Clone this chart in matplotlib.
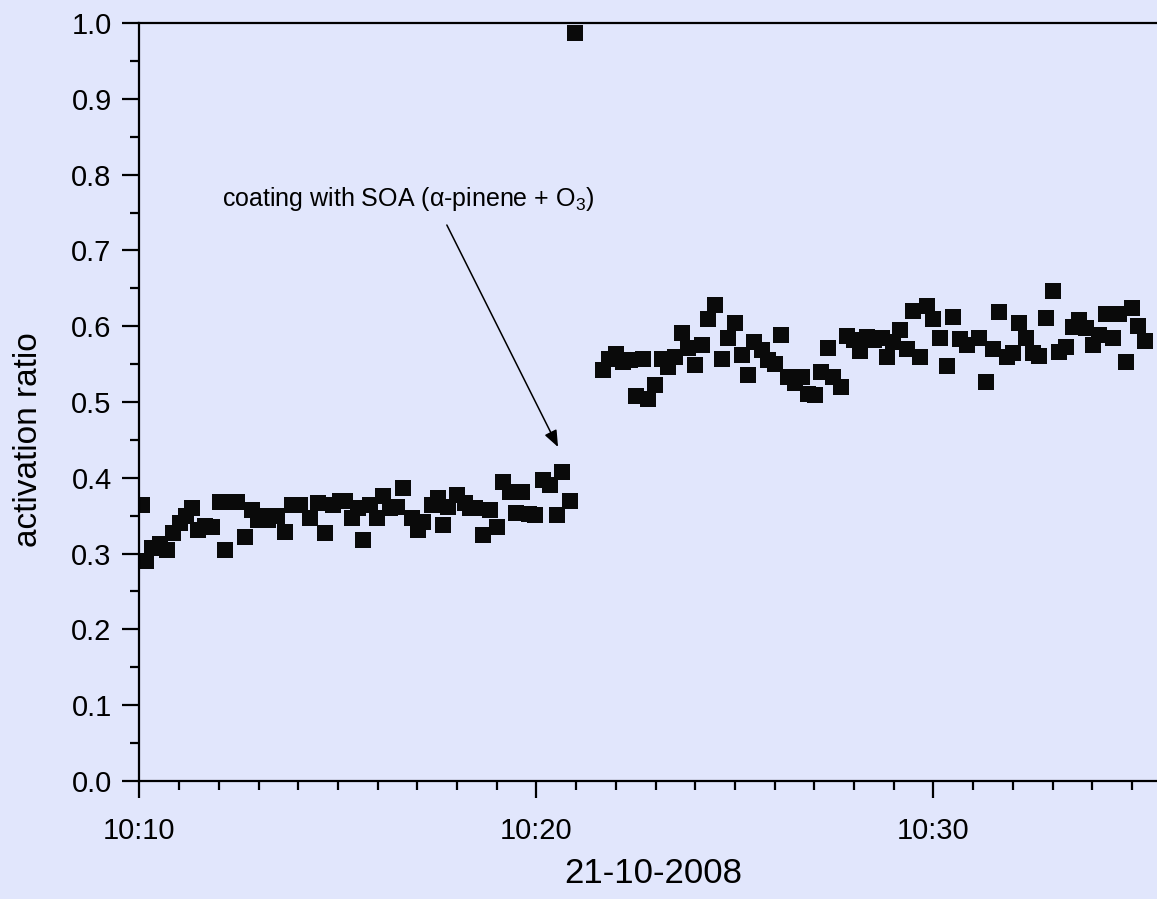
from datetime import datetime, timedelta
import matplotlib
matplotlib.use("Agg")
import matplotlib.pyplot as plt
import matplotlib.dates as mdates
from matplotlib.ticker import MultipleLocator

plt.rcParams['font.family'] = ['Liberation Sans', 'DejaVu Sans']
plt.rcParams['mathtext.fontset'] = 'custom'
plt.rcParams['mathtext.rm'] = 'Liberation Sans'
plt.rcParams['mathtext.it'] = 'Liberation Sans:italic'

START = datetime(2008, 10, 21, 10, 10)

# minutes after 10:10 and activation ratio, before coating
minutes_before = [0.058, 0.166, 0.317, 0.519, 0.695, 0.846, 1.023, 1.174, 1.325, 1.476,
                  1.652, 1.829, 2.030, 2.156, 2.282, 2.458, 2.660, 2.836, 2.987, 3.139,
                  3.239, 3.466, 3.668, 3.844, 4.046, 4.297, 4.499, 4.675, 4.877, 5.053,
                  5.179, 5.355, 5.506, 5.632, 5.809, 5.985, 6.136, 6.312, 6.489, 6.640,
                  6.867, 7.018, 7.144, 7.370, 7.521, 7.647, 7.773, 8.000, 8.201, 8.327,
                  8.453, 8.655, 8.831, 9.007, 9.159, 9.335, 9.486, 9.637, 9.814, 9.965,
                  10.166, 10.343, 10.519, 10.645, 10.846, 10.972]
ratio_before = [0.364, 0.290, 0.307, 0.313, 0.305, 0.327, 0.340, 0.350, 0.360, 0.331,
                0.337, 0.335, 0.368, 0.305, 0.368, 0.368, 0.322, 0.357, 0.344, 0.350,
                0.344, 0.349, 0.329, 0.364, 0.364, 0.347, 0.367, 0.327, 0.364, 0.370,
                0.370, 0.347, 0.360, 0.318, 0.364, 0.347, 0.376, 0.360, 0.361, 0.386,
                0.347, 0.331, 0.342, 0.364, 0.373, 0.338, 0.361, 0.377, 0.367, 0.360,
                0.360, 0.325, 0.357, 0.335, 0.394, 0.381, 0.353, 0.381, 0.352, 0.351,
                0.397, 0.390, 0.351, 0.408, 0.370, 0.987]

# after coating with SOA
minutes_after = [11.670, 11.829, 12.005, 12.174, 12.358, 12.509, 12.678, 12.811, 12.987, 13.156,
                 13.315, 13.491, 13.660, 13.819, 13.995, 14.164, 14.322, 14.499, 14.668, 14.826,
                 15.003, 15.171, 15.330, 15.481, 15.675, 15.834, 16.010, 16.161, 16.338, 16.514,
                 16.683, 16.841, 17.018, 17.169, 17.338, 17.471, 17.665, 17.824, 18.000, 18.151,
                 18.327, 18.504, 18.698, 18.831, 18.982, 19.159, 19.327, 19.486, 19.662, 19.831,
                 19.990, 20.166, 20.335, 20.494, 20.670, 20.839, 21.149, 21.325, 21.494, 21.652,
                 21.846, 22.005, 22.156, 22.332, 22.501, 22.660, 22.836, 23.005, 23.164, 23.340,
                 23.509, 23.668, 23.844, 24.013, 24.171, 24.348, 24.516, 24.675, 24.851, 24.995,
                 25.154, 25.330]
ratio_after = [0.542, 0.557, 0.563, 0.553, 0.555, 0.508, 0.557, 0.504, 0.522, 0.557,
               0.546, 0.560, 0.591, 0.571, 0.549, 0.575, 0.609, 0.628, 0.557, 0.584,
               0.604, 0.562, 0.536, 0.579, 0.569, 0.555, 0.550, 0.589, 0.533, 0.525,
               0.533, 0.511, 0.509, 0.539, 0.571, 0.533, 0.520, 0.587, 0.582, 0.567,
               0.586, 0.582, 0.584, 0.559, 0.579, 0.595, 0.570, 0.620, 0.560, 0.627,
               0.609, 0.584, 0.547, 0.612, 0.583, 0.575, 0.584, 0.527, 0.570, 0.619,
               0.559, 0.565, 0.604, 0.584, 0.565, 0.561, 0.611, 0.646, 0.566, 0.573,
               0.599, 0.608, 0.597, 0.575, 0.588, 0.616, 0.584, 0.616, 0.553, 0.624,
               0.600, 0.580]

minutes = minutes_before + minutes_after
ratio = ratio_before + ratio_after
times = [START + timedelta(minutes=m) for m in minutes]

BG = '#E1E6FC'

fig = plt.figure(figsize=(11.57, 8.99), dpi=100, facecolor=BG)
ax = fig.add_axes([0.1205, 0.1313, 0.8795, 0.8431])
ax.set_facecolor(BG)

ax.plot(times, ratio, 's', color='#0a0a0a', markersize=11, markeredgewidth=0)

ax.set_xlim(START, START + timedelta(minutes=25.63))
ax.set_ylim(0, 1.0)

ax.xaxis.set_major_locator(mdates.MinuteLocator(byminute=[0, 10, 20, 30, 40, 50]))
ax.xaxis.set_minor_locator(mdates.MinuteLocator())
ax.xaxis.set_major_formatter(mdates.DateFormatter('%H:%M'))
ax.yaxis.set_major_locator(MultipleLocator(0.1))
ax.yaxis.set_minor_locator(MultipleLocator(0.05))
ax.yaxis.set_major_formatter(plt.FormatStrFormatter('%.1f'))

for side in ['left', 'bottom', 'top']:
    ax.spines[side].set_linewidth(1.6)
ax.spines['right'].set_visible(False)
ax.tick_params(which='major', direction='out', length=12, width=1.6, labelsize=21)
ax.tick_params(which='minor', direction='out', length=6.5, width=1.6)
ax.tick_params(axis='x', which='major', pad=14)
ax.tick_params(axis='y', which='major', pad=8)

ax.set_ylabel('activation ratio', fontsize=24)
ax.yaxis.set_label_coords(-0.094, 0.45)
ax.set_xlabel('21-10-2008', fontsize=25)
ax.xaxis.set_label_coords(0.505, -0.1)

ax.text(START + timedelta(minutes=2.08), 0.759,
        'coating with SOA (α-pinene + O$_3$)', fontsize=18, va='baseline')
ax.annotate('', xy=(START + timedelta(minutes=10.544), 0.4406),
            xytext=(START + timedelta(minutes=7.743), 0.7335),
            arrowprops=dict(arrowstyle='-|>,head_length=0.5,head_width=0.2',
                            mutation_scale=20, color='k', lw=1.1,
                            shrinkA=0, shrinkB=0))

fig.savefig('out.png', dpi=100, facecolor=BG)
